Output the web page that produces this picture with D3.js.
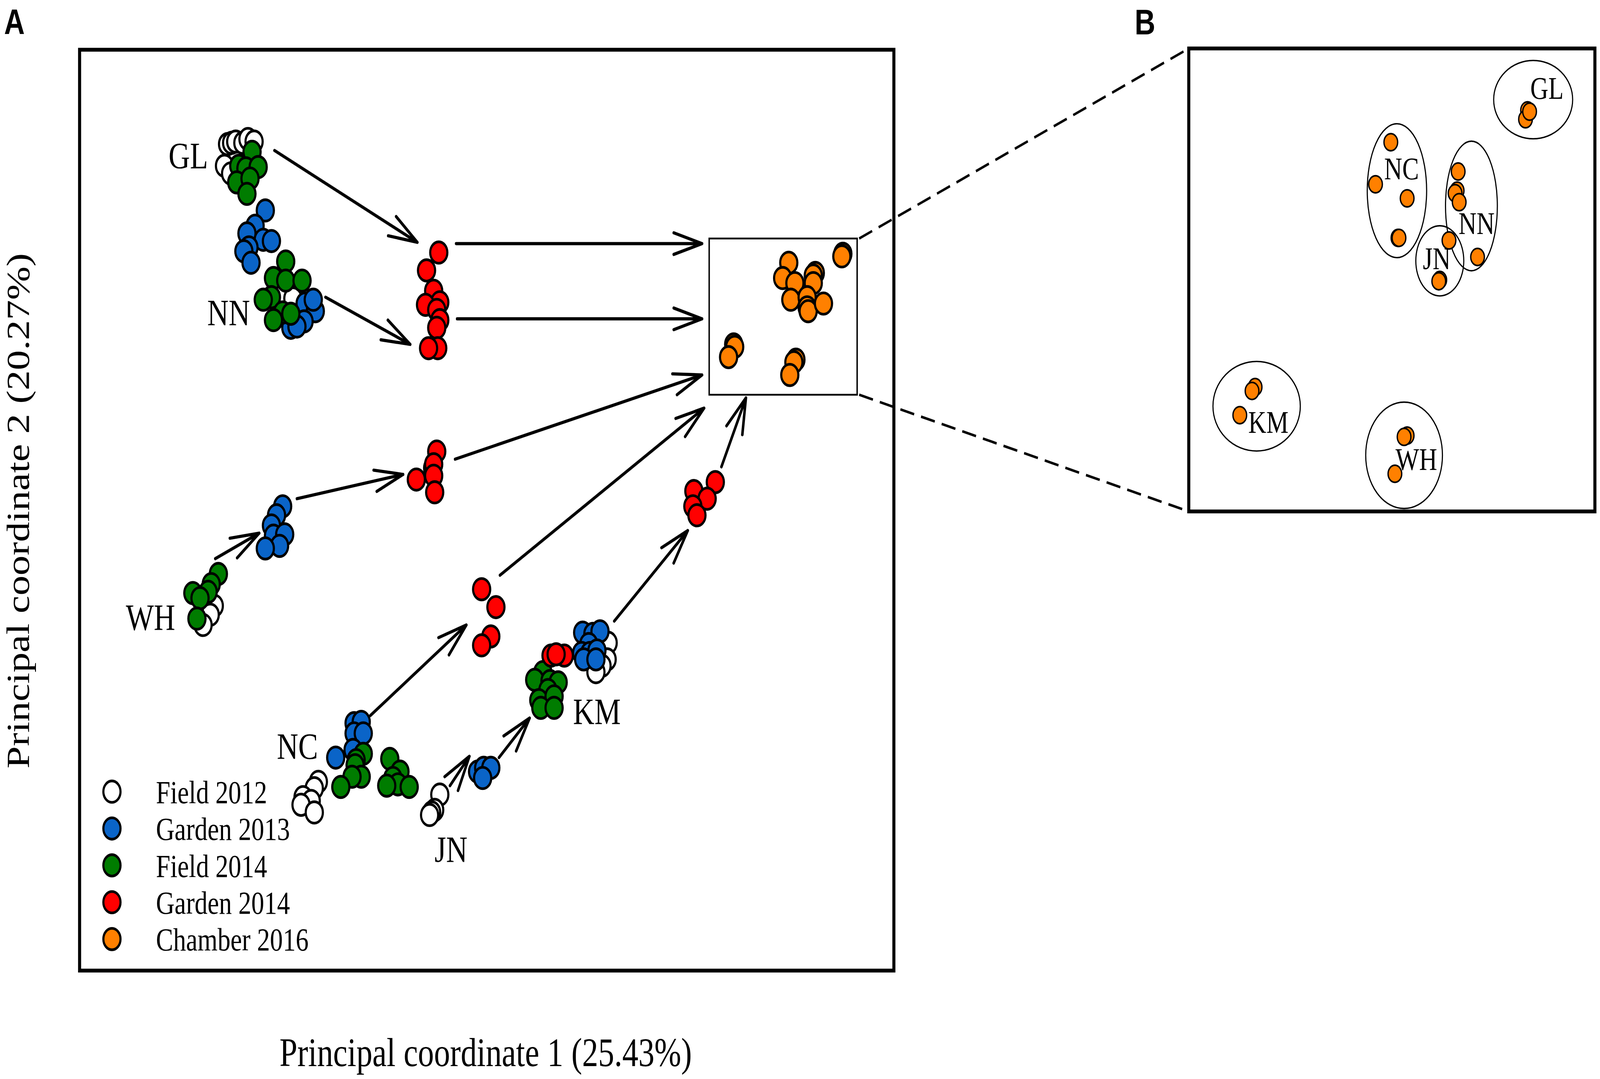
<!DOCTYPE html>
<html><head><meta charset="utf-8">
<script src="https://cdn.jsdelivr.net/npm/d3@7"></script>
<style>html,body{margin:0;padding:0;background:#fff;overflow:hidden;width:100vw;height:100vh}
#chart{display:block;width:100vw;height:100vh}</style>
</head><body>
<svg id="chart"></svg>
<script>
// ---------- DATA (PCoA scores) ----------
const legendLabels = ["Field 2012", "Garden 2013", "Field 2014", "Garden 2014", "Chamber 2016"];
const groupColors  = ["#ffffff", "#0a64c8", "#007c00", "#ff0000", "#ff8000"];

const field2012 = [
  [-0.254,0.287],[-0.250,0.288],[-0.246,0.289],[-0.239,0.288],[-0.234,0.291],[-0.228,0.289],[-0.257,0.270],[-0.251,0.264],
  [-0.190,0.166],
  [-0.267,-0.075],[-0.271,-0.082],[-0.278,-0.090],
  [-0.165,-0.213],[-0.169,-0.218],[-0.180,-0.225],[-0.172,-0.228],[-0.182,-0.231],[-0.169,-0.237],
  [-0.046,-0.223],[-0.051,-0.235],[-0.054,-0.237],[-0.056,-0.239],
  [0.119,-0.104],[0.118,-0.117],[0.113,-0.122],[0.107,-0.127]
];
const garden2013 = [
  [-0.217,0.235],[-0.227,0.223],[-0.235,0.217],[-0.219,0.212],[-0.211,0.211],[-0.233,0.206],[-0.238,0.203],[-0.231,0.194],
  [-0.178,0.162],[-0.168,0.156],[-0.170,0.165],[-0.179,0.148],[-0.192,0.143],[-0.186,0.144],
  [-0.200,0.003],[-0.206,-0.004],[-0.211,-0.012],[-0.209,-0.020],[-0.198,-0.019],[-0.203,-0.028],[-0.217,-0.030],
  [-0.130,-0.167],[-0.123,-0.166],[-0.130,-0.175],[-0.121,-0.175],[-0.148,-0.194],[-0.131,-0.188],
  [-0.009,-0.205],[-0.003,-0.202],[0.004,-0.202],[-0.004,-0.210],
  [0.094,-0.096],[0.104,-0.097],[0.111,-0.095],[0.100,-0.105],[0.093,-0.112],[0.101,-0.112],[0.108,-0.110],[0.095,-0.117],[0.107,-0.117]
];
const field2014 = [
  [-0.230,0.281],[-0.243,0.270],[-0.236,0.268],[-0.224,0.269],[-0.245,0.257],[-0.232,0.260],[-0.235,0.248],
  [-0.197,0.195],[-0.209,0.182],[-0.197,0.180],[-0.181,0.180],[-0.211,0.167],[-0.219,0.165],[-0.200,0.155],[-0.209,0.149],[-0.192,0.154],
  [-0.263,-0.050],[-0.270,-0.058],[-0.273,-0.064],[-0.288,-0.065],[-0.281,-0.069],[-0.284,-0.085],
  [-0.121,-0.191],[-0.128,-0.196],[-0.129,-0.200],[-0.123,-0.209],[-0.132,-0.209],[-0.143,-0.217],
  [-0.095,-0.195],[-0.085,-0.205],[-0.092,-0.210],[-0.087,-0.215],[-0.076,-0.217],[-0.098,-0.216],
  [0.055,-0.127],[0.047,-0.133],[0.062,-0.134],[0.070,-0.135],[0.060,-0.141],[0.051,-0.149],[0.066,-0.146],[0.053,-0.155],[0.066,-0.155]
];
const garden2014 = [
  [-0.047,0.202],[-0.059,0.188],[-0.052,0.172],[-0.046,0.163],[-0.060,0.161],[-0.049,0.157],[-0.046,0.149],[-0.049,0.143],[-0.048,0.127],[-0.057,0.127],
  [-0.049,0.046],[-0.053,0.033],[-0.052,0.036],[-0.069,0.024],[-0.052,0.027],[-0.051,0.014],
  [-0.005,-0.062],[0.009,-0.076],[0.004,-0.099],[-0.005,-0.106],
  [0.224,0.022],[0.203,0.015],[0.216,0.009],[0.202,0.003],[0.206,-0.004],
  [0.063,-0.114],[0.076,-0.114],[0.068,-0.113]
];
const chamber2016 = [
  [0.349,0.201],[0.348,0.199],[0.296,0.194],[0.290,0.182],[0.302,0.178],[0.298,0.165],
  [0.322,0.186],[0.320,0.184],[0.320,0.178],[0.314,0.167],[0.314,0.159],[0.315,0.156],[0.330,0.162],
  [0.242,0.130],[0.243,0.128],[0.237,0.120],[0.303,0.118],[0.301,0.116],[0.297,0.106]
];

// site labels in panel A: [label, x, y]
const siteLabelsA = [["GL",-0.2925,0.268],["NN",-0.253,0.145],["WH",-0.3295,-0.094],["NC",-0.1855,-0.195],["JN",-0.035,-0.276],["KM",0.108,-0.168]];

// trajectory arrows: [x1, y1, x2, y2]
const arrowsA = [
  [-0.208,0.282,-0.068,0.210],
  [-0.158,0.167,-0.075,0.130],
  [-0.030,0.209,0.211,0.209],
  [-0.029,0.150,0.211,0.150],
  [-0.266,-0.038,-0.223,-0.018],
  [-0.186,0.009,-0.082,0.028],
  [-0.031,0.040,0.211,0.106],
  [-0.114,-0.161,-0.020,-0.090],
  [0.013,-0.051,0.213,0.080],
  [-0.036,-0.216,-0.017,-0.193],
  [0.012,-0.194,0.042,-0.163],
  [0.125,-0.087,0.197,-0.016],
  [0.230,0.034,0.254,0.088]
];

// zoomed window in panel A: [xmin, ymin, xmax, ymax]
const insetBox = [0.218, 0.0905, 0.363, 0.213];

// panel B: chamber-only ordination
const chamberB = [
  [0.133,0.133],[0.131,0.126],[0.135,0.132],
  [-0.001,0.108],[-0.016,0.075],[0.015,0.064],[0.006,0.033],[0.007,0.033],
  [0.065,0.085],[0.064,0.070],[0.062,0.068],[0.066,0.061],[0.084,0.018],
  [0.056,0.031],[0.047,0.000],[0.046,-0.001],
  [-0.134,-0.084],[-0.137,-0.087],[-0.149,-0.106],
  [0.015,-0.122],[0.012,-0.123],[0.003,-0.152]
];
// ellipses: [site, cx, cy, rx, ry]
const ellipsesB = [
  ["GL",0.1385,0.1414,0.0387,0.0307],
  ["NC",0.005,0.070,0.0291,0.0525],
  ["NN",0.078,0.058,0.0254,0.0508],
  ["JN",0.047,0.015,0.0235,0.0275],
  ["KM",-0.1325,-0.099,0.0428,0.0351],
  ["WH",0.012,-0.1375,0.0376,0.0417]
];
const siteLabelsB = [["GL",0.152,0.142],["NC",0.0095,0.079],["NN",0.083,0.036],["JN",0.044,0.0085],["KM",-0.121,-0.120],["WH",0.024,-0.149]];

const xTitle = "Principal coordinate 1 (25.43%)";
const yTitle = "Principal coordinate 2 (20.27%)";
const panelLetters = ["A","B"];

// ---------- DRAWING ----------
const svg = d3.select("#chart")
  .attr("viewBox", "0 0 1568 846").attr("preserveAspectRatio","none");
svg.append("rect").attr("width",1568).attr("height",846).attr("fill","#fff");

const serif = "'Liberation Serif','Times New Roman',Times,serif";
const sans = "'Liberation Sans',Arial,Helvetica,sans-serif";

const xA = d3.scaleLinear().domain([-0.399,0.399]).range([78,876]);
const yA = d3.scaleLinear().domain([-0.361,0.361]).range([761,39]);
const xB = d3.scaleLinear().domain([-0.199,0.199]).range([1165,1563]);
const yB = d3.scaleLinear().domain([-0.1815,0.1815]).range([401,38]);

const R = 8.4, SW = 2.1;

// arrows
const gArr = svg.append("g").attr("stroke","#000").attr("stroke-width",2.5)
  .attr("stroke-linecap","round").attr("fill","none");
const headLen = 29, headAng = 17 * Math.PI/180;
arrowsA.forEach(a => {
  const x1 = xA(a[0]), y1 = yA(a[1]), x2 = xA(a[2]), y2 = yA(a[3]);
  const ang = Math.atan2(y2-y1, x2-x1);
  const p = d3.path();
  p.moveTo(x1,y1); p.lineTo(x2,y2);
  p.moveTo(x2 - headLen*Math.cos(ang-headAng), y2 - headLen*Math.sin(ang-headAng));
  p.lineTo(x2,y2);
  p.lineTo(x2 - headLen*Math.cos(ang+headAng), y2 - headLen*Math.sin(ang+headAng));
  gArr.append("path").attr("d", p.toString()).attr("stroke-linejoin","round");
});

// points
const groups = [field2012, garden2013, field2014, garden2014, chamber2016];
groups.forEach((pts, gi) => {
  svg.append("g").selectAll("circle").data(pts).join("circle")
    .attr("cx", d => xA(d[0])).attr("cy", d => yA(d[1])).attr("r", R)
    .attr("fill", groupColors[gi]).attr("stroke","#000").attr("stroke-width",SW);
});

// inset rectangle
svg.append("rect")
  .attr("x", xA(insetBox[0])).attr("y", yA(insetBox[3]))
  .attr("width", xA(insetBox[2]) - xA(insetBox[0]))
  .attr("height", yA(insetBox[1]) - yA(insetBox[3]))
  .attr("fill","none").attr("stroke","#000").attr("stroke-width",1.4);

// dashed connectors
const bx0 = xB.range()[0], by0 = yB.range()[1], by1 = yB.range()[0];
svg.append("line").attr("x1", xA(insetBox[2])+2).attr("y1", yA(insetBox[3])).attr("x2", bx0).attr("y2", by0)
  .attr("stroke","#000").attr("stroke-width",2).attr("stroke-dasharray","14,7");
svg.append("line").attr("x1", xA(insetBox[2])+2).attr("y1", yA(insetBox[1])).attr("x2", bx0).attr("y2", by1)
  .attr("stroke","#000").attr("stroke-width",2).attr("stroke-dasharray","14,7");

// site labels A
svg.append("g").selectAll("text").data(siteLabelsA).join("text")
  .attr("x", d => xA(d[1])).attr("y", d => yA(d[2]))
  .attr("text-anchor","middle").attr("font-family",serif).attr("font-size",29)
  .text(d => d[0]);

// panel A frame
svg.append("rect").attr("x",78).attr("y",39).attr("width",798).attr("height",722)
  .attr("fill","none").attr("stroke","#000").attr("stroke-width",3);

// legend
const lg = svg.append("g");
legendLabels.forEach((lab, i) => {
  const cy = 620.7 + i*28.9;
  lg.append("circle").attr("cx",109.7).attr("cy",cy).attr("r",R)
    .attr("fill",groupColors[i]).attr("stroke","#000").attr("stroke-width",SW);
  lg.append("text").attr("x",152.8).attr("y",cy+9).attr("font-family",serif)
    .attr("font-size",25.3).text(lab);
});

// axis titles
svg.append("text").attr("x",476).attr("y",836).attr("text-anchor","middle")
  .attr("font-family",serif).attr("font-size",31.5).text(xTitle);
svg.append("text").attr("transform","translate(28.5,400.5) rotate(-90)").attr("text-anchor","middle")
  .attr("font-family",serif).attr("font-size",31.5).text(yTitle);

// panel B
const gB = svg.append("g");
gB.selectAll("ellipse").data(ellipsesB).join("ellipse")
  .attr("cx", d => xB(d[1])).attr("cy", d => yB(d[2]))
  .attr("rx", d => xB(d[3]) - xB(0)).attr("ry", d => yB(0) - yB(d[4]))
  .attr("fill","none").attr("stroke","#000").attr("stroke-width",1.1);
gB.append("g").selectAll("circle").data(chamberB).join("circle")
  .attr("cx", d => xB(d[0])).attr("cy", d => yB(d[1])).attr("r",6.7)
  .attr("fill", groupColors[4]).attr("stroke","#000").attr("stroke-width",1.3);
gB.append("g").selectAll("text").data(siteLabelsB).join("text")
  .attr("x", d => xB(d[1])).attr("y", d => yB(d[2]))
  .attr("text-anchor","middle").attr("font-family",serif).attr("font-size",24.5)
  .text(d => d[0]);
svg.append("rect").attr("x",1165).attr("y",38).attr("width",398).attr("height",363)
  .attr("fill","none").attr("stroke","#000").attr("stroke-width",3);

// panel letters
svg.append("text").attr("x",4).attr("y",26.5).attr("font-family",sans).attr("font-weight","bold")
  .attr("font-size",28).text(panelLetters[0]);
svg.append("text").attr("x",1112).attr("y",27).attr("font-family",sans).attr("font-weight","bold")
  .attr("font-size",28).text(panelLetters[1]);
</script>
</body></html>
